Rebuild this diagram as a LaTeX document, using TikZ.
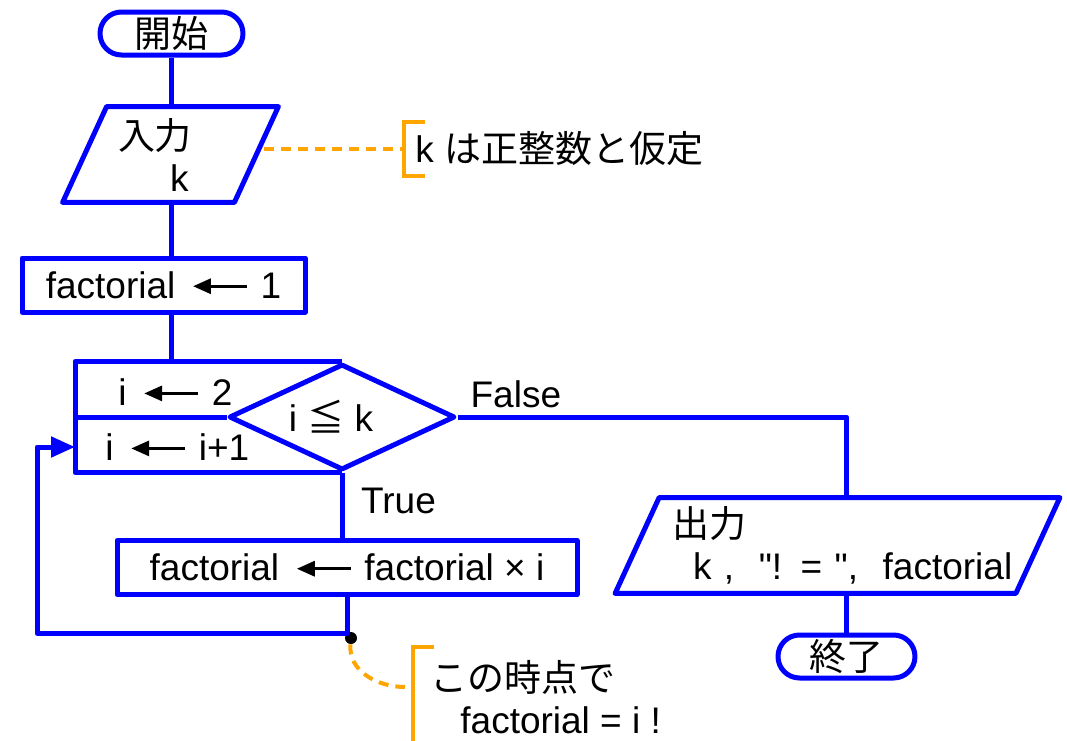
\documentclass[tikz,border=0pt]{standalone}
\usepackage{fontspec}
\setmainfont{Liberation Sans}
\newfontfamily\rawfont{Liberation Sans}
\newfontfamily\jp{Noto Sans CJK JP}
\usepackage{tikz}
\usetikzlibrary{arrows.meta,positioning,shapes.geometric,calc}
\definecolor{FlowBlue}{HTML}{0000FF}
\definecolor{NoteOrange}{HTML}{FFA500}
\newcommand\getsarrow{\hspace{8pt}\tikz[baseline=-6pt]\draw[line width=1.6pt,{Triangle[length=9pt,width=7.5pt]}-] (0,0) -- (27pt,0);\hspace{6pt}}
\newcommand\ioframe[1]{\draw[flow] ([xshift=11pt]#1.north west) -- ([xshift=11pt]#1.north east) -- ([xshift=-11pt]#1.south east) -- ([xshift=-11pt]#1.south west) -- cycle;}
\newcommand\notebracket[1]{\draw[bracket] ([xshift=10.5pt]#1.north west) -- (#1.north west) -- (#1.south west) -- ([xshift=10.5pt]#1.south west);}

\begin{document}
\begin{tikzpicture}[
  x=0.5pt, y=-0.5pt,
  every node/.style={font=\fontsize{18.5}{21}\selectfont},
  flow/.style={draw=FlowBlue, line width=2.5pt, line join=round},
  term/.style={flow, rounded corners=10.75pt, minimum width=71.5pt, minimum height=21.5pt, inner sep=0pt},
  proc/.style={flow, minimum height=27pt, inner sep=0pt},
  iobox/.style={minimum width=#1, text width=#1, minimum height=47.5pt, inner sep=0pt, align=left},
  note/.style={anchor=west, inner ysep=0pt, align=left},
  bracket/.style={draw=NoteOrange, line width=2pt},
  hintline/.style={draw=NoteOrange, line width=2pt, dash pattern=on 5pt off 3.5pt}
]
\useasboundingbox (0,0) rectangle (1067,740);

\node[term] (start) at (171.5,33.5) {\raisebox{-3pt}{\jp 開始}};
\node[iobox=85.5pt] (inp) at (170.5,154.5) {\hspace*{16.5pt}{\jp 入力}\\\hspace*{42.5pt}k};
\node[proc, minimum width=141.5pt] (setf) at (163.5,285) {factorial\getsarrow 1};
\node[flow, diamond, aspect=2.1, minimum width=113pt, minimum height=53pt, inner sep=0pt] (cond) at (342,417) {\hspace*{-11pt}i {\jp ≦} k};
\node[anchor=west, inner xsep=21.5pt] (init) at (75,392) {i\getsarrow 2};
\node[anchor=west, inner xsep=15pt] (step) at (75,447) {i\getsarrow i+1};
\node[proc, minimum width=230pt] (body) at (347,567.5) {factorial\getsarrow factorial × i};
\node[iobox=200pt] (out) at (837.5,545.5) {\hspace*{17.25pt}{\jp 出力}\\\hspace*{27.75pt}k ,\ \ {\rawfont "! = "},\ \ factorial};
\node[term, minimum width=68.5pt] (endt) at (846.5,656.5) {\raisebox{-3pt}{\jp 終了}};
\coordinate (back) at (37,633);
\node[circle, fill=black, inner sep=0pt, minimum size=6pt] (chk) at ([shift={(2pt,-2.5pt)}]body.south |- back) {};

\node[note, inner xsep=5.5pt, minimum height=27pt] (hint) at (404,149) {k \jp は正整数と仮定};
\node[note, inner xsep=8.5pt, minimum height=50pt] (fact) at (413,697) {{\jp この時点で}\\\hspace*{15pt}factorial = i !};

\draw[flow] (start) -- (start |- inp.north);
\ioframe{inp}
\draw[flow] (start |- inp.south) -- (start |- setf.north);
\draw[flow] (start |- setf.south) -- (start |- cond.north);
\draw[flow] (cond.north) -- (cond.north -| init.west) -- (cond.south -| init.west) -- (cond.south);
\draw[flow] (cond.west -| init.west) -- (cond.west);
\draw[flow] (cond.east) -| node[pos=0.075, above] {False} (endt |- out.north);
\draw[flow] (cond.south) -- node[pos=0.43, right, xshift=5pt] {True} (cond.south |- body.north);
\draw[flow, -{Triangle[length=12pt,width=10pt]}] (body.south) |- (back) |- (step.west);
\ioframe{out}
\draw[flow] (endt |- out.south) -- (endt);

\notebracket{hint}
\notebracket{fact}
\draw[hintline] ([xshift=4pt]inp.east |- hint.west) -- (hint.west);
\draw[hintline] (chk) to[out=-95, in=180] ([shift={(-4pt,5pt)}]fact.west);
\end{tikzpicture}
\end{document}
